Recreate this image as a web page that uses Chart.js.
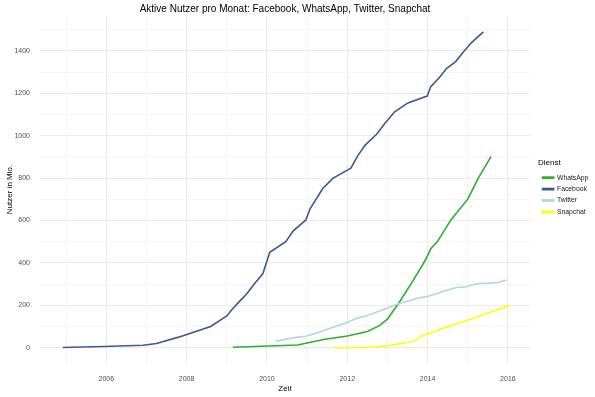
<!DOCTYPE html>
<html lang="de">
<head>
    <meta charset="UTF-8">
    <title>Aktive Nutzer pro Monat</title>
    <script src="https://cdn.jsdelivr.net/npm/chart.js@4.4.1/dist/chart.umd.min.js"></script>
    <style>
        html, body { margin: 0; padding: 0; background: #fff; }
        #container { width: 595px; height: 397px; }
    </style>
</head>
<body>
<div id="container">
    <canvas id="canvas"></canvas>
</div>
<script>
    // Facebook (Mio. aktive Nutzer)
    var fbYears = [2004.92, 2005.92, 2006.92, 2007.25, 2007.8, 2008.6, 2009.0, 2009.13, 2009.3, 2009.5,
        2009.68, 2009.9, 2010.07, 2010.47, 2010.65, 2010.97, 2011.07, 2011.39, 2011.64, 2012.09,
        2012.26, 2012.44, 2012.73, 2012.94, 2013.18, 2013.51, 2013.99, 2014.08, 2014.3, 2014.47,
        2014.7, 2014.87, 2015.1, 2015.39];
    var fbUsers = [1, 5.5, 12, 20, 50, 100, 150, 180, 215, 255,
        300, 350, 450, 500, 550, 603, 654, 751, 799, 847,
        905, 955, 1007, 1059, 1113, 1155, 1187, 1232, 1276, 1317,
        1350, 1390, 1441, 1490];

    // WhatsApp
    var waYears = [2009.15, 2010.76, 2011.45, 2012.0, 2012.5, 2012.8, 2013.0, 2013.28, 2013.6, 2013.95,
        2014.08, 2014.25, 2014.58, 2015.0, 2015.27, 2015.58];
    var waUsers = [2, 13, 40, 55, 77, 104, 135, 210, 305, 415,
        467, 502, 603, 701, 803, 902];

    // Twitter
    var twYears = [2010.22, 2010.47, 2010.72, 2010.97, 2011.22, 2011.47, 2011.72, 2011.97,
        2012.22, 2012.47, 2012.72, 2012.97, 2013.22, 2013.47, 2013.72, 2013.97,
        2014.22, 2014.47, 2014.72, 2014.97, 2015.22, 2015.47, 2015.72, 2015.97];
    var twUsers = [30, 40, 49, 54, 68, 85, 101, 117,
        138, 151, 167, 185, 204, 218, 232, 241,
        255, 271, 284, 288, 302, 304, 307, 320];

    // Snapchat
    var scYears = [2011.67, 2012.53, 2013.03, 2013.6, 2013.95, 2014.22, 2014.62, 2014.96, 2016.05];
    var scUsers = [0, 1, 10, 28, 63, 80, 107, 127, 200];

    var seriesNames = ['WhatsApp', 'Facebook', 'Twitter', 'Snapchat'];
    var seriesColors = ['#2CAE2C', '#3B5998', '#ADD8E6', '#FFFF00'];

    var xTicks = [2005, 2006, 2007, 2008, 2009, 2010, 2011, 2012, 2013, 2014, 2015, 2016];
    var yTicks = [0, 100, 200, 300, 400, 500, 600, 700, 800, 900, 1000, 1100, 1200, 1300, 1400, 1500];

    function toPoints(xs, ys) {
        return xs.map(function (x, i) { return {x: x, y: ys[i]}; });
    }

    var allData = [toPoints(waYears, waUsers), toPoints(fbYears, fbUsers),
        toPoints(twYears, twUsers), toPoints(scYears, scUsers)];

    var datasets = seriesNames.map(function (name, i) {
        return {
            label: name,
            data: allData[i],
            borderColor: seriesColors[i],
            backgroundColor: seriesColors[i],
            borderWidth: 1.6,
            pointRadius: 0,
            tension: 0,
            order: seriesNames.length - i // ggplot zeichnet die letzte Serie oben
        };
    });

    var fontFam = '"Liberation Sans", Arial, sans-serif';

    // Legende fest 65px breit und etwas nach rechts, wie im Original
    var layoutFix = {
        id: 'layoutFix',
        beforeLayout: function (chart) {
            var lg = chart.legend;
            if (lg && !lg._fixed) {
                var fit = lg.fit;
                lg.fit = function () { fit.call(this); this.width = 65; };
                lg._fixed = true;
            }
        },
        afterLayout: function (chart) {
            chart.legend.left += 8;
            chart.legend.right += 8;
        }
    };

    var isMajorX = function (v) { return v % 2 === 0; };
    var isMajorY = function (v) { return v % 200 === 0; };

    window.onload = function () {
        var ctx = document.getElementById('canvas').getContext('2d');
        window.myLine = new Chart(ctx, {
            type: 'line',
            data: {datasets: datasets},
            plugins: [layoutFix],
            options: {
                responsive: true,
                maintainAspectRatio: false,
                animation: false,
                layout: {padding: 0},
                plugins: {
                    title: {
                        display: true,
                        fullSize: false,
                        text: 'Aktive Nutzer pro Monat: Facebook, WhatsApp, Twitter, Snapchat',
                        color: '#000',
                        font: {family: fontFam, size: 10, weight: 'normal', lineHeight: 1.2},
                        padding: {top: 3, bottom: 1}
                    },
                    legend: {
                        position: 'right',
                        fullSize: false,
                        align: 'center',
                        title: {
                            display: true,
                            text: 'Dienst',
                            position: 'start',
                            color: '#000',
                            font: {family: fontFam, size: 8},
                            padding: {top: 0, bottom: 1}
                        },
                        labels: {
                            boxWidth: 11,
                            boxHeight: 1.2,
                            padding: 4.6,
                            color: '#1a1a1a',
                            font: {family: fontFam, size: 6.8},
                            sort: function (a, b) { return a.datasetIndex - b.datasetIndex; }
                        }
                    },
                    tooltip: {enabled: false}
                },
                scales: {
                    x: {
                        type: 'linear',
                        min: 2004.35,
                        max: 2016.55,
                        afterBuildTicks: function (axis) {
                            axis.ticks = xTicks.map(function (v) { return {value: v}; });
                        },
                        afterFit: function (axis) { axis.height = 34; },
                        border: {display: false},
                        grid: {
                            drawTicks: false,
                            color: function (c) { return isMajorX(c.tick.value) ? '#EBEBEB' : '#F4F4F4'; },
                            lineWidth: 1
                        },
                        ticks: {
                            padding: 11.5,
                            maxRotation: 0,
                            autoSkip: false,
                            color: '#4D4D4D',
                            font: {family: fontFam, size: 7},
                            callback: function (v) { return isMajorX(v) ? String(v) : ''; }
                        },
                        title: {
                            display: true,
                            text: 'Zeit',
                            color: '#000',
                            font: {family: fontFam, size: 8},
                            padding: {top: 0, bottom: 3}
                        }
                    },
                    y: {
                        type: 'linear',
                        min: -72,
                        max: 1565,
                        afterBuildTicks: function (axis) {
                            axis.ticks = yTicks.map(function (v) { return {value: v}; });
                        },
                        afterFit: function (axis) { axis.width = 40; },
                        border: {display: false},
                        grid: {
                            drawTicks: false,
                            color: function (c) { return isMajorY(c.tick.value) ? '#EBEBEB' : '#F4F4F4'; },
                            lineWidth: 1
                        },
                        ticks: {
                            padding: 10,
                            autoSkip: false,
                            color: '#4D4D4D',
                            font: {family: fontFam, size: 7},
                            callback: function (v) { return isMajorY(v) ? String(v) : ''; }
                        },
                        title: {
                            display: true,
                            text: 'Nutzer in Mio.',
                            color: '#000',
                            font: {family: fontFam, size: 8},
                            padding: {top: 5, bottom: 0}
                        }
                    }
                }
            }
        });
    };
</script>
</body>
</html>
